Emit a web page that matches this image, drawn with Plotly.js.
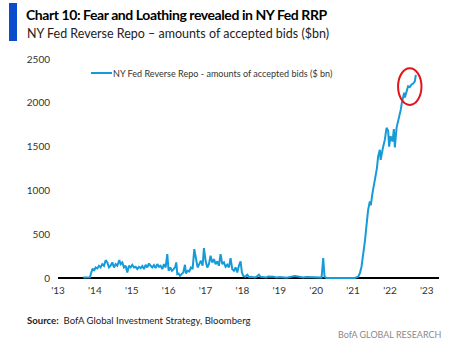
<!DOCTYPE html>
<html>
<head>
<meta charset="utf-8">
<script src="https://cdn.plot.ly/plotly-3.0.1.min.js"></script>
<style>
  html, body { margin: 0; padding: 0; background: #fff; }
  #chart { width: 463px; height: 355px; }
</style>
</head>
<body>
<div id="chart"></div>
<script>
// Dates as decimal years, values in $bn
const years = [
  2013.687, 2013.777, 2013.867, 2013.894, 2013.939, 2013.976, 2014.021, 2014.066, 2014.111, 2014.156,
  2014.201, 2014.247, 2014.292, 2014.337, 2014.382, 2014.427, 2014.472, 2014.518, 2014.563, 2014.608,
  2014.662, 2014.698, 2014.743, 2014.789, 2014.834, 2014.879, 2014.924, 2014.969, 2015.014, 2015.060,
  2015.105, 2015.150, 2015.195, 2015.240, 2015.285, 2015.331, 2015.376, 2015.421, 2015.466, 2015.511,
  2015.556, 2015.602, 2015.647, 2015.692, 2015.737, 2015.782, 2015.827, 2015.873, 2015.918, 2015.963,
  2015.999, 2016.044, 2016.089, 2016.135, 2016.180, 2016.207, 2016.234, 2016.270, 2016.306, 2016.351,
  2016.397, 2016.442, 2016.469, 2016.514, 2016.559, 2016.604, 2016.650, 2016.695, 2016.740, 2016.785,
  2016.830, 2016.875, 2016.921, 2016.957, 2017.002, 2017.047, 2017.092, 2017.137, 2017.182, 2017.228,
  2017.273, 2017.318, 2017.363, 2017.408, 2017.454, 2017.499, 2017.544, 2017.589, 2017.634, 2017.679,
  2017.724, 2017.770, 2017.815, 2017.860, 2017.905, 2017.950, 2017.986, 2018.023, 2018.077, 2018.131,
  2018.185, 2018.248, 2018.339, 2018.384, 2018.447, 2018.492, 2018.655, 2018.700, 2018.836, 2018.926,
  2019.016, 2019.197, 2019.423, 2019.513, 2019.649, 2019.739, 2019.874, 2020.010, 2020.146, 2020.191,
  2020.227, 2020.281, 2020.642, 2021.049, 2021.139, 2021.184, 2021.230, 2021.274, 2021.320, 2021.366,
  2021.409, 2021.455, 2021.482, 2021.518, 2021.564, 2021.610, 2021.645, 2021.680, 2021.726, 2021.748,
  2021.772, 2021.816, 2021.862, 2021.908, 2021.951, 2021.978, 2022.016, 2022.070, 2022.106, 2022.133,
  2022.179, 2022.222, 2022.268, 2022.295, 2022.322, 2022.358, 2022.385, 2022.404, 2022.450, 2022.493,
  2022.539, 2022.585, 2022.629, 2022.675, 2022.702
];
const rrp = [
  8, 12, 10, 53, 110, 84, 122, 110, 141, 122,
  160, 141, 205, 179, 122, 141, 179, 122, 160, 141,
  205, 160, 179, 122, 141, 65, 141, 122, 152, 122,
  129, 103, 129, 114, 137, 103, 152, 122, 167, 141,
  122, 148, 114, 160, 129, 141, 103, 160, 122, 274,
  84, 122, 84, 103, 129, 179, 46, 53, 27, 46,
  65, 152, 53, 84, 76, 122, 103, 331, 198, 122,
  160, 198, 141, 342, 198, 122, 160, 255, 179, 217,
  160, 190, 141, 274, 160, 179, 129, 152, 122, 228,
  103, 84, 122, 65, 141, 190, 65, 27, 15, 38,
  10, 15, 8, 15, 38, 15, 8, 19, 15, 8,
  12, 4, 23, 15, 8, 12, 8, 6, 6, 228,
  15, 2, 2, 2, 15, 55, 133, 247, 418, 608,
  780, 875, 830, 950, 1065, 1140, 1250, 1388, 1465, 1350,
  1420, 1500, 1580, 1715, 1680, 1500, 1620, 1560, 1700, 1490,
  1715, 1790, 1850, 1925, 2000, 2095, 2115, 2060, 2120, 2190,
  2180, 2210, 2220, 2245, 2320
];
const seriesName = "NY Fed Reverse Repo - amounts of accepted bids ($ bn)";
const titleText = "Chart 10: Fear and Loathing revealed in NY Fed RRP";
const subtitleText = "NY Fed Reverse Repo \u2013 amounts of accepted bids ($bn)";
const sourceLabel = "Source:";
const sourceText = "BofA Global Investment Strategy, Bloomberg";
const footerText = "BofA GLOBAL RESEARCH";
const xTickVals = [2013, 2014, 2015, 2016, 2017, 2018, 2019, 2020, 2021, 2022, 2023];
const xTickText = ["'13", "'14", "'15", "'16", "'17", "'18", "'19", "'20", "'21", "'22", "'23"];
const yTickVals = [0, 500, 1000, 1500, 2000, 2500];

const FONT = "Lato, 'Open Sans', sans-serif";

// size text so that it spans the same width as in the reference
const ctx = document.createElement('canvas').getContext('2d');
function measure(t, weight, size) { ctx.font = weight + ' ' + size + 'px ' + FONT; return ctx.measureText(t).width; }
function fit(t, weight, target) { return 20 * target / measure(t, weight, 20); }
// title: taller type, tightened with letter spacing to keep the reference width
const titleSize = 14;
const titleLS = (302 - measure(titleText, 'bold', titleSize)) / (titleText.length - 1);
const subSize = fit(subtitleText, 'normal', 303);
const legSize = fit(seriesName, 'normal', 220);
const srcSize = 20 * 224 / (measure(sourceLabel, 'bold', 20) + measure('  ' + sourceText, 'normal', 20));
const footSize = fit(footerText, 'normal', 104);

// pixel -> paper helpers for the plot area (l=58, w=381, t=59, h=220)
const px = x => (x - 58) / 381;
const py = y => (279 - y) / 220;

const trace = {
  x: years, y: rrp, type: 'scatter', mode: 'lines', name: seriesName,
  line: { color: '#169bd8', width: 2 }, showlegend: false
};

const layout = {
  width: 463, height: 355,
  margin: { l: 58, r: 24, t: 59, b: 76 },
  paper_bgcolor: '#fff', plot_bgcolor: '#fff',
  font: { family: FONT, size: 10, color: '#333' },
  title: {
    text: '<b>' + titleText + '</b>',
    x: 26 / 463, xanchor: 'left', xref: 'container',
    y: 1 - 15.5 / 355, yanchor: 'middle', yref: 'container',
    font: { family: FONT, size: titleSize, color: '#000' }
  },
  xaxis: {
    range: [2013, 2023.33], tickvals: xTickVals, ticktext: xTickText,
    showgrid: false, zeroline: false, showline: false, ticks: '',
    tickfont: { size: 10, color: '#333' }, ticklabelstandoff: 4, fixedrange: true
  },
  yaxis: {
    range: [-10, 2500], tickvals: yTickVals, showgrid: false,
    zeroline: true, zerolinecolor: '#000', zerolinewidth: 1.3,
    showline: false, ticks: '', tickfont: { size: 10, color: '#333' },
    ticklabelstandoff: 7, fixedrange: true
  },
  shapes: [
    { type: 'rect', xref: 'paper', yref: 'paper', x0: px(9), x1: px(17), y0: py(41), y1: py(3),
      fillcolor: '#0a4ccc', line: { width: 0 } },
    { type: 'line', xref: 'paper', yref: 'paper', x0: px(91), x1: px(112), y0: py(73), y1: py(73),
      line: { color: '#169bd8', width: 2 } },
    { type: 'circle', xref: 'x', yref: 'y', x0: 2022.22, x1: 2022.855, y0: 1976, y1: 2394,
      line: { color: '#e3141b', width: 2 } }
  ],
  annotations: [
    { text: seriesName, xref: 'paper', yref: 'paper',
      x: px(112), xanchor: 'left', y: py(73), yanchor: 'middle', xshift: -1,
      showarrow: false, font: { family: FONT, size: legSize, color: '#333' } },
    { text: subtitleText, xref: 'paper', yref: 'paper',
      x: px(26), xanchor: 'left', y: py(33), yanchor: 'middle', xshift: -1,
      showarrow: false, font: { family: FONT, size: subSize, color: '#222' } },
    { text: '<b>' + sourceLabel + '</b>  ' + sourceText, xref: 'paper', yref: 'paper',
      x: px(26), xanchor: 'left', y: py(320), yanchor: 'middle', xshift: -1,
      showarrow: false, font: { family: FONT, size: srcSize, color: '#222' } },
    { text: footerText, xref: 'paper', yref: 'paper',
      x: px(442), xanchor: 'right', y: py(335), yanchor: 'middle', xshift: 1,
      showarrow: false, font: { family: FONT, size: footSize, color: '#8a8a8a' } }
  ]
};

Plotly.newPlot('chart', [trace], layout, { displayModeBar: false, staticPlot: true }).then(gd => {
  const t = gd.querySelector('.gtitle');
  if (t) t.style.letterSpacing = titleLS + 'px';
});
</script>
</body>
</html>
